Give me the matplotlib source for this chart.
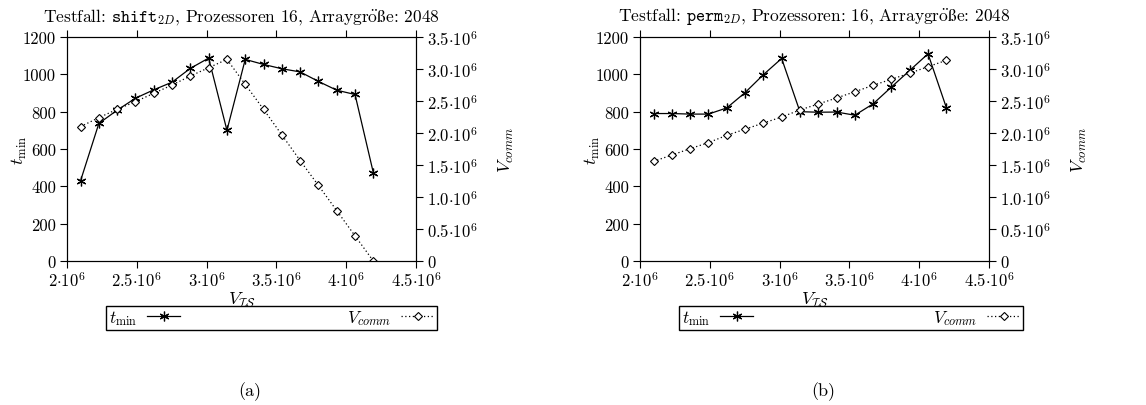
import matplotlib
matplotlib.use("Agg")
import matplotlib.pyplot as plt
from matplotlib.ticker import FixedLocator, FixedFormatter

plt.rcParams["font.family"] = ["cmr10", "DejaVu Serif"]
plt.rcParams["mathtext.fontset"] = "cm"
plt.rcParams["axes.unicode_minus"] = False
plt.rcParams["font.size"] = 11

# V_IS values (shared by both panels)
v_is = [2097152, 2228224, 2359296, 2490368, 2621440, 2752512, 2883584,
        3014656, 3145728, 3276800, 3407872, 3538944, 3670016, 3801088,
        3932160, 4063232, 4194304]

# (a) shift_2D
tmin_shift = [430, 737, 808, 872, 917, 958, 1032, 1087, 700, 1080, 1053,
              1030, 1013, 962, 915, 892, 473]
vcomm_shift = [2.10e6, 2.24e6, 2.37e6, 2.49e6, 2.62e6, 2.75e6, 2.89e6,
               3.02e6, 3.15e6, 2.76e6, 2.37e6, 1.97e6, 1.57e6, 1.18e6,
               0.787e6, 0.393e6, 0.0]

# (b) perm_2D
tmin_perm = [790, 790, 787, 787, 820, 902, 998, 1085, 800, 797, 798, 781,
             842, 932, 1021, 1110, 822]
vcomm_perm = [1.557e6, 1.656e6, 1.755e6, 1.850e6, 1.963e6, 2.06e6, 2.155e6,
              2.25e6, 2.36e6, 2.453e6, 2.547e6, 2.645e6, 2.745e6, 2.84e6,
              2.935e6, 3.036e6, 3.135e6]

x_ticks = [2.0e6, 2.5e6, 3.0e6, 3.5e6, 4.0e6, 4.5e6]
x_labels = [r"$2{\cdot}10^6$", r"$2.5{\cdot}10^6$", r"$3{\cdot}10^6$",
            r"$3.5{\cdot}10^6$", r"$4{\cdot}10^6$", r"$4.5{\cdot}10^6$"]
left_ticks = [0, 200, 400, 600, 800, 1000, 1200]
right_ticks = [0, 0.5e6, 1.0e6, 1.5e6, 2.0e6, 2.5e6, 3.0e6, 3.5e6]
right_labels = ["0"] + [r"$%.1f{\cdot}10^6$" % (t / 1e6) for t in right_ticks[1:]]

umlaut = r"gr$\mathrm{\ddot{o}}$$\mathrm{ß}$e"
titles = [r"Testfall: $\mathtt{shift}_{\mathit{2D}}$, Prozessoren 16, Array" + umlaut + ": 2048",
          r"Testfall: $\mathtt{perm}_{\mathit{2D}}$, Prozessoren: 16, Array" + umlaut + ": 2048"]
captions = ["(a)", "(b)"]

W, H = 1146, 406
fig = plt.figure(figsize=(W / 100, H / 100), dpi=100)

panels = [(tmin_shift, vcomm_shift), (tmin_perm, vcomm_perm)]
legend_px = [(106, 437), (679, 1023)]

for i, (tmin, vcomm) in enumerate(panels):
    off = 573 * i
    ax = fig.add_axes([(67 + off) / W, 1 - 262 / H, 349 / W, 224 / H])
    ax2 = ax.twinx()

    l1, = ax.plot(v_is, tmin, color="black", lw=0.9, marker=(6, 2, 0),
                  ms=7, mew=0.9, label=r"$t_{\mathrm{min}}$")
    l2, = ax2.plot(v_is, vcomm, color="black", lw=0.9, ls=(0, (1, 2)),
                   marker="D", ms=4, mfc="white", mec="black", mew=0.8,
                   label=r"$V_{comm}$")

    ax.set_xlim(2.0e6, 4.5e6)
    ax.set_ylim(0, 1200)
    ax2.set_ylim(0, 3.5e6)

    ax.xaxis.set_major_locator(FixedLocator(x_ticks))
    ax.xaxis.set_major_formatter(FixedFormatter(x_labels))
    ax.yaxis.set_major_locator(FixedLocator(left_ticks))
    ax2.yaxis.set_major_locator(FixedLocator(right_ticks))
    ax2.yaxis.set_major_formatter(FixedFormatter(right_labels))

    ax.tick_params(axis="x", direction="out", length=5, width=0.8,
                   top=True, bottom=True, pad=2, labelsize=12)
    ax.tick_params(axis="y", direction="out", length=5, width=0.8,
                   left=True, right=False, pad=3, labelsize=12)
    ax2.tick_params(axis="y", direction="out", length=5, width=0.8,
                    right=True, left=False, pad=3, labelsize=12)
    for a in (ax, ax2):
        for s in a.spines.values():
            s.set_linewidth(0.8)

    ax.set_title(titles[i], pad=12, fontsize=12.5)
    ax.set_xlabel(r"$V_{\mathcal{IS}}$", fontsize=13)
    ax.set_ylabel(r"$t_{\mathrm{min}}$", fontsize=13)
    ax2.set_ylabel(r"$V_{comm}$", fontsize=13)
    ax.xaxis.set_label_coords(0.5, -0.13)
    ax.yaxis.set_label_coords(-0.11, 0.5)
    ax2.yaxis.set_label_coords(1.232, 0.5)

    x0, x1 = legend_px[i]
    fig.legend([l1, l2], [l1.get_label(), l2.get_label()],
               loc="lower left",
               bbox_to_anchor=(x0 / W, 1 - 331 / H, (x1 - x0) / W, 19 / H),
               bbox_transform=fig.transFigure, mode="expand", ncol=2,
               markerfirst=False, borderaxespad=0, fancybox=False,
               edgecolor="black", framealpha=1, handlelength=1.9,
               borderpad=0.15, handletextpad=0.6, fontsize=12.5)

    fig.text((250 + off) / W, 1 - 392 / H, captions[i], ha="center",
             va="center", fontsize=13)

fig.savefig("out.png", dpi=100)
